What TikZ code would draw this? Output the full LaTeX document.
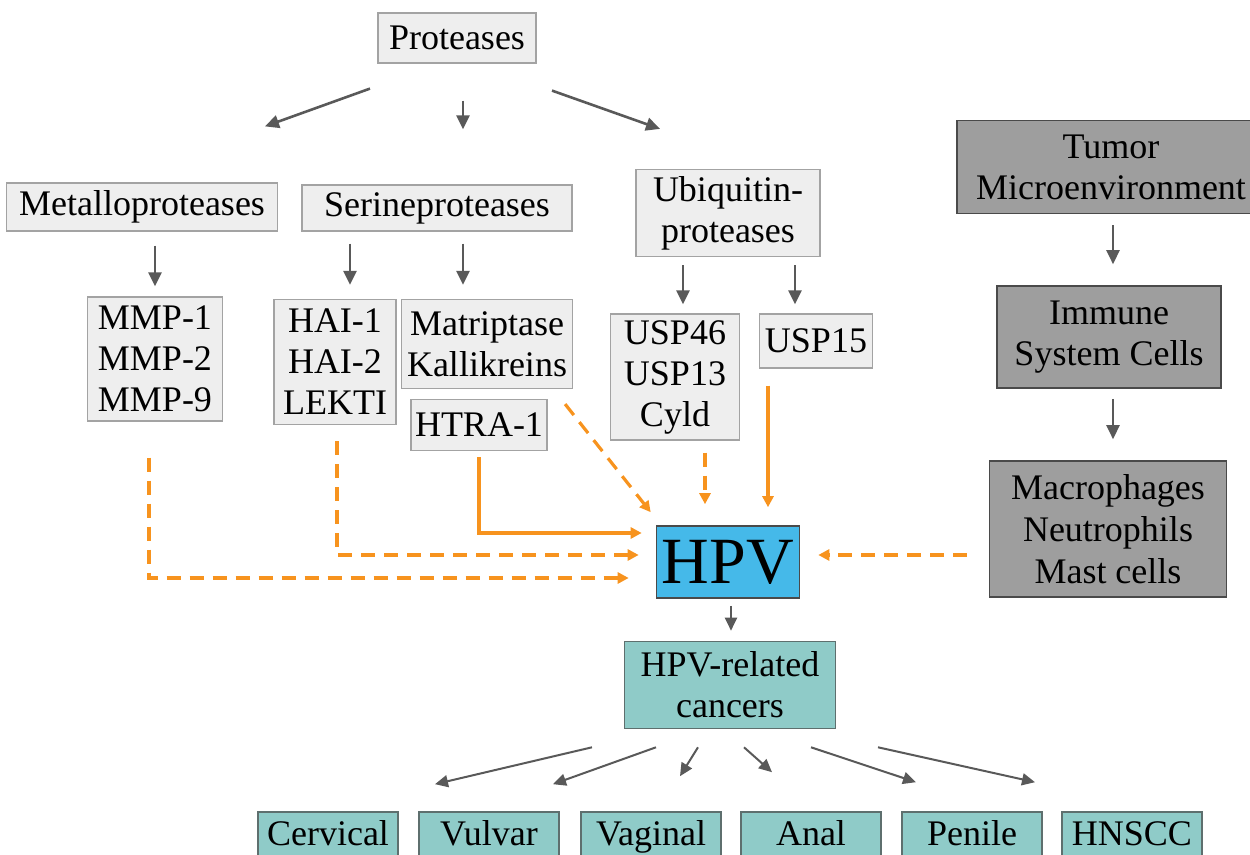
\documentclass[tikz,border=0pt]{standalone}
\usepackage{fontspec}
\setmainfont{Liberation Serif}
\usetikzlibrary{arrows.meta,calc}
\definecolor{boxgray}{HTML}{EEEEEE}
\definecolor{lineg}{HTML}{A3A3A3}
\definecolor{boxdark}{HTML}{9E9E9E}
\definecolor{darkline}{HTML}{4A4A4A}
\definecolor{tealfill}{HTML}{8FCBC8}
\definecolor{tealline}{HTML}{5E6F6E}
\definecolor{hpvblue}{HTML}{45B9E9}
\definecolor{arrowg}{HTML}{595959}
\definecolor{orng}{HTML}{F7931E}

\begin{document}
\begin{tikzpicture}[
		% Define styles for nodes
		x=0.5pt, y=-0.5pt,
		every node/.style={rectangle, align=center, inner sep=0pt, font=\fontsize{18}{20.5}\selectfont},
		sz/.style 2 args={minimum width=#1*0.5pt, minimum height=#2*0.5pt},
		lbox/.style={draw=lineg, fill=boxgray, line width=0.6pt},
		dbox/.style={draw=darkline, fill=boxdark, line width=0.8pt},
		cbox/.style={draw=tealline, fill=tealfill, line width=0.8pt},
		leaf/.style={cbox, sz={140}{58}, text height=0.72em, text depth=0.22em},
		garrow/.style={draw=arrowg, line width=1.3pt, -{Triangle[length=7pt,width=6.5pt]}},
		gthin/.style={garrow, line width=1pt, -{Triangle[length=6.5pt,width=6pt]}},
		oarrow/.style={draw=orng, line width=1.6pt, -{Triangle[length=5.5pt,width=5.5pt]}},
		odash/.style={oarrow, dash pattern=on 7pt off 4.5pt}
	]
	\useasboundingbox (0,0) rectangle (1250,855);

	% Proteases branch
	\node[lbox, sz={158}{50}] (prot) at (457,38) {Proteases};
	\node[lbox, sz={271}{48}] (metal) at (142,207) {Metalloproteases};
	\node[lbox, sz={270}{46}] (serine) at (437,208) {Serineproteases};
	\node[lbox, sz={184}{87}] (ubiq) at (728,213) {Ubiquitin-\\proteases};

	\node[lbox, sz={135}{124}] (mmp) at (155,359) {MMP-1\\MMP-2\\MMP-9};
	\node[lbox, sz={122}{125}] (hai) at (335,362) {HAI-1\\HAI-2\\LEKTI};
	\node[lbox, sz={171}{89}] (matr) at (487,344) {Matriptase\\Kallikreins};
	\node[lbox, sz={136}{51}] (htra) at (479,425) {HTRA-1};
	\node[lbox, sz={129}{126}] (usp) at (675,377) {USP46\\USP13\\Cyld};
	\node[lbox, sz={113}{54}] (usp15) at (816,341) {USP15};

	% Tumor microenvironment branch
	\node[dbox, sz={308}{93}] (tumor) at (1111,167) {Tumor\\Microenvironment};
	\node[dbox, sz={224}{102}] (immune) at (1109,337) {Immune\\System Cells};
	\node[dbox, sz={237}{136}, font=\fontsize{18}{21}\selectfont] (macro) at (1108,529) {Macrophages\\Neutrophils\\Mast cells};

	% HPV and cancers
	\node[draw=darkline, fill=hpvblue, line width=0.8pt, sz={143}{72}, font=\fontsize{33}{36}\selectfont] (hpv) at (728,562) {HPV};
	\node[cbox, sz={211}{87}] (hpvc) at (730,685) {HPV-related\\cancers};
	\node[leaf] (cerv) at (328,841) {Cervical};
	\node[leaf] (vulv) at (489,841) {Vulvar};
	\node[leaf] (vagi) at (651,841) {Vaginal};
	\node[leaf] (anal) at (811,841) {Anal};
	\node[leaf] (peni) at (972,841) {Penile};
	\node[leaf] (hnsc) at (1132,841) {HNSCC};

	% Gray arrows
	\draw[garrow] ($(prot.south)+(-87,25)$) -- ($(metal.north)+(123,-56)$);
	\draw[garrow] ($(prot.south)+(6,37)$) -- ($(serine.north)+(26,-55)$);
	\draw[garrow] ($(prot.south)+(95,27)$) -- ($(ubiq.north)+(-68,-40)$);
	\draw[garrow] ($(metal.south)+(13,14)$) -- ($(mmp.north)+(0,-10)$);
	\draw[garrow] ($(serine.south)+(-87,12)$) -- ($(hai.north)+(15,-14)$);
	\draw[garrow] ($(serine.south)+(26,12)$) -- ($(matr.north)+(-24,-14)$);
	\draw[garrow] ($(ubiq.south)+(-45,8)$) -- ($(usp.north)+(8,-9)$);
	\draw[garrow] ($(ubiq.south)+(67,8)$) -- ($(usp15.north)+(-21,-9)$);
	\draw[garrow] ($(tumor.south)+(2,11)$) -- ($(immune.north)+(4,-21)$);
	\draw[garrow] ($(immune.south)+(4,10)$) -- ($(macro.north)+(5,-21)$);
	\draw[gthin] ($(hpv.south)+(3,7)$) -- ($(hpvc.north)+(1,-10)$);

	\draw[gthin] ($(hpvc.south)+(-138,18)$) -- ($(cerv.north)+(107,-27)$);
	\draw[gthin] ($(hpvc.south)+(-74,18)$) -- ($(vulv.north)+(64,-27)$);
	\draw[gthin] ($(hpvc.south)+(-32,18)$) -- ($(vagi.north)+(29,-35)$);
	\draw[gthin] ($(hpvc.south)+(14,18)$) -- ($(anal.north)+(-39,-39)$);
	\draw[gthin] ($(hpvc.south)+(81,18)$) -- ($(peni.north)+(-56,-29)$);
	\draw[gthin] ($(hpvc.south)+(148,18)$) -- ($(hnsc.north)+(-97,-29)$);

	% Orange arrows into HPV
	\draw[odash] ($(mmp.south)+(-6,36)$) |- ($(hpv.west)+(-27,16)$);
	\draw[odash] ($(hai.south)+(2,16)$) |- ($(hpv.west)+(-17,-7)$);
	\draw[oarrow] ($(htra.south)+(0,6)$) |- ($(hpv.west)+(-14,-29)$);
	\draw[odash] ($(matr.south east)+(-8,15)$) -- ($(hpv.north west)+(-5,-13)$);
	\draw[odash] ($(usp.south)+(30,12)$) -- ($(hpv.north)+(-23,-21)$);
	\draw[oarrow] ($(usp15.south)+(-48,17)$) -- ($(hpv.north)+(40,-18)$);
	\draw[odash] ($(macro.west)+(-22,26)$) -- ($(hpv.east)+(18,-7)$);
\end{tikzpicture}
\end{document}
